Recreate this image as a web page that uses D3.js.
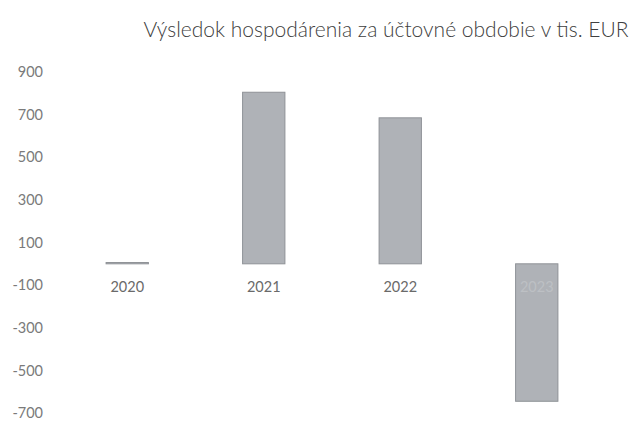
<!DOCTYPE html>
<html>
<head>
<meta charset="utf-8">
<script src="https://cdn.jsdelivr.net/npm/d3@7"></script>
<style>
  body { margin: 0; background: #fff; }
  svg text { font-family: Lato, "Open Sans", sans-serif; }
</style>
</head>
<body>
<svg class="chart" width="632" height="423"></svg>
<script>
// data (thousands of EUR)
var years = ["2020", "2021", "2022", "2023"];
var results = [6, 805, 685, -645];
var yTicks = [900, 700, 500, 300, 100, -100, -300, -500, -700];
var title = "Výsledok hospodárenia za účtovné obdobie v tis. EUR";

var svg = d3.select(".chart");

var x = d3.scaleBand()
    .domain(years)
    .range([59, 605])
    .paddingInner(0.69)
    .paddingOuter(0.345);

var y = d3.scaleLinear()
    .domain([-700, 900])
    .range([413, 72]);

svg.append("text")
    .attr("x", 386)
    .attr("y", 37)
    .attr("text-anchor", "middle")
    .attr("font-size", 21)
    .attr("font-weight", 300)
    .attr("fill", "#404040")
    .text(title);

// y labels only, no axis line; plain hyphen for negatives like the original
var yAxis = svg.append("g")
    .attr("transform", "translate(43,0)")
    .call(d3.axisLeft(y).tickValues(yTicks).tickSize(0).tickPadding(0)
      .tickFormat(function(d) { return String(d); }));
yAxis.select(".domain").remove();
yAxis.selectAll("text")
    .attr("font-size", 14.5)
    .attr("fill", "#7a7a7a")
    .style("font-family", "Lato, sans-serif");

svg.append("g")
  .selectAll("rect")
  .data(results)
  .enter().append("rect")
    .attr("x", function(d, i) { return x(years[i]); })
    .attr("y", function(d) { return y(Math.max(0, d)); })
    .attr("width", x.bandwidth())
    .attr("height", function(d) { return Math.abs(y(d) - y(0)); })
    .attr("fill", "#afb2b7")
    .attr("stroke", "#8f9297")
    .attr("stroke-width", 1);

var xAxis = svg.append("g")
    .attr("transform", "translate(0," + y(0) + ")")
    .call(d3.axisBottom(x).tickSize(0).tickPadding(18));
xAxis.select(".domain").remove();
xAxis.selectAll("text")
    .attr("font-size", 14.5)
    .attr("fill", function(d) { return d === "2023" ? "#bdc0c4" : "#6a6a6a"; })
    .style("font-family", "Lato, sans-serif");
</script>
</body>
</html>
